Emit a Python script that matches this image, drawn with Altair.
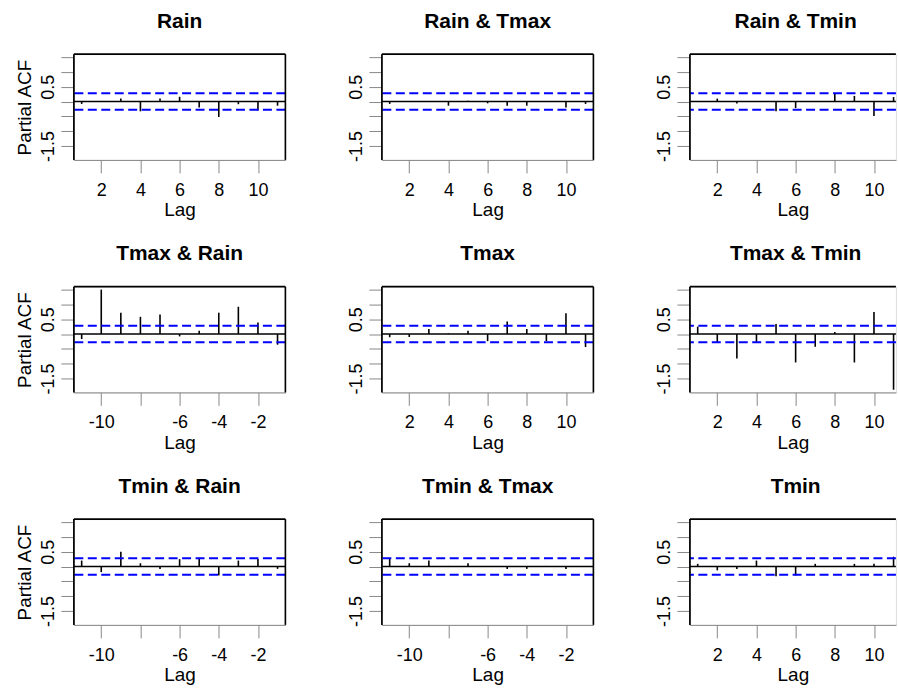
import altair as alt
import pandas as pd

FONT = "Liberation Sans"

# ---------------- data ----------------
lags_pos = list(range(1, 12))
lags_neg = list(range(-11, 0))

rain      = [-0.08, 0.02, 0.10, -0.33, 0.10, 0.16, -0.20, -0.52, -0.09, -0.30, -0.14]
rain_tmax = [-0.08, 0.01, 0.02, -0.14, 0.03, -0.06, -0.14, -0.14, 0.01, -0.20, -0.08]
rain_tmin = [0.01, 0.10, -0.07, 0.01, -0.33, -0.22, 0.01, 0.26, 0.19, -0.49, 0.15]
tmax_rain = [-0.17, 1.50, 0.72, 0.58, 0.66, -0.08, 0.11, 0.72, 0.92, 0.39, -0.36]
tmax      = [-0.11, -0.10, 0.17, 0.02, 0.11, -0.24, 0.42, 0.17, -0.24, 0.70, -0.44]
tmax_tmin = [0.25, -0.30, -0.83, -0.30, 0.34, -0.96, -0.43, 0.07, -0.96, 0.74, -1.88]
tmin_rain = [0.20, -0.19, 0.50, 0.11, -0.08, 0.25, 0.30, -0.30, 0.20, 0.25, -0.08]
tmin_tmax = [0.28, 0.11, 0.20, 0.02, 0.11, 0.01, -0.08, -0.08, 0.02, -0.08, 0.01]
tmin      = [0.09, -0.13, -0.08, 0.20, -0.33, -0.30, 0.09, 0.02, 0.09, 0.09, 0.33]

titles = ["Rain", "Rain & Tmax", "Rain & Tmin",
          "Tmax & Rain", "Tmax", "Tmax & Tmin",
          "Tmin & Rain", "Tmin & Tmax", "Tmin"]
series = [rain, rain_tmax, rain_tmin,
          tmax_rain, tmax, tmax_tmin,
          tmin_rain, tmin_tmax, tmin]
lag_sets = [lags_pos, lags_pos, lags_pos,
            lags_neg, lags_pos, lags_pos,
            lags_neg, lags_neg, lags_pos]

ci_levels = [0.28, -0.28]
zero_level = [0.0]
y_ticks = [-1.5, -1.0, -0.5, 0.0, 0.5, 1.0, 1.5]
x_ticks_pos = [2, 4, 6, 8, 10]
x_ticks_neg = [-10, -8, -6, -4, -2]
y_domain = [-1.97, 1.6]
x_domain_pos = [0.6, 11.4]
x_domain_neg = [-11.4, -0.6]

# ---------------- layout ----------------
W, H = 212, 106
W3 = 206.5          # last column is cut by the window edge
LW = 1.6


def panel(i):
    col = i % 3
    lags = lag_sets[i]
    neg = lags[0] < 0
    xd = list(x_domain_neg if neg else x_domain_pos)
    w = W
    dx = 0
    if col == 2:
        w = W3
        xd = [xd[0], xd[0] + (xd[1] - xd[0]) * W3 / W]
        dx = (W - W3) / 2
    xs = alt.Scale(domain=xd, nice=False, zero=False)
    ys = alt.Scale(domain=y_domain, nice=False, zero=False)

    xargs = dict(title="Lag", tickSize=13, labelPadding=8.5, grid=False,
                 labelFontSize=18, titleFontSize=19, titleFontWeight="normal",
                 titleY=56, titleBaseline="alphabetic",
                 labelFlush=False, labelOverlap=False)
    if neg:
        x_axis = alt.Axis(values=x_ticks_neg,
                          labelExpr="datum.value == -8 ? '' : '-' + abs(datum.value)",
                          **xargs)
    else:
        x_axis = alt.Axis(values=x_ticks_pos, **xargs)

    yargs = dict(values=y_ticks, grid=False,
                 labelExpr="datum.value == 0.5 ? '0.5' : (datum.value == -1.5 ? '-1.5' : '')",
                 tickSize=13, labelPadding=7, labelAngle=270, labelAlign="center",
                 labelBaseline="alphabetic", labelFontSize=18, labelFlush=False,
                 labelOverlap=False)
    if col == 0:
        y_axis = alt.Axis(title="Partial ACF", titleFontSize=19, titleFontWeight="normal",
                          titleAngle=270, titleX=-43.3, titleY=H / 2, titleAlign="center",
                          titleBaseline="alphabetic", **yargs)
    else:
        y_axis = alt.Axis(title=None, **yargs)

    df = pd.DataFrame({"lag": lags, "pacf": series[i], "base": [0.0] * len(lags)})

    bars = alt.Chart(df).mark_rule(color="black", strokeWidth=LW).encode(
        x=alt.X("lag:Q", scale=xs, axis=x_axis),
        y=alt.Y("pacf:Q", scale=ys, axis=y_axis),
        y2="base:Q",
    )
    zero = alt.Chart(pd.DataFrame({"pacf": zero_level})).mark_rule(
        color="black", strokeWidth=LW).encode(y=alt.Y("pacf:Q", scale=ys, axis=y_axis))
    ci = alt.Chart(pd.DataFrame({"pacf": ci_levels})).mark_rule(
        color="#0000ff", strokeWidth=2, strokeDash=[9, 4.5]).encode(
        y=alt.Y("pacf:Q", scale=ys, axis=y_axis))
    top = alt.Chart(pd.DataFrame({"pacf": [y_domain[1]]})).mark_rule(
        color="black", strokeWidth=LW).encode(y=alt.Y("pacf:Q", scale=ys, axis=y_axis))
    # frame sides at the x-domain ends (the last column is cut on the right)
    sides = [xd[0]] if col == 2 else [xd[0], xd[1]]
    side = alt.Chart(pd.DataFrame({"lag": sides})).mark_rule(
        color="black", strokeWidth=LW).encode(x=alt.X("lag:Q", scale=xs, axis=x_axis))
    layers = [bars, zero, ci, top, side]

    return alt.layer(*layers).properties(
        width=w, height=H,
        title=alt.TitleParams(text=titles[i], fontSize=21, fontWeight="bold", font=FONT,
                              color="black", anchor="middle", frame="group",
                              baseline="alphabetic", offset=4.5, dx=dx),
    )


charts = [panel(i) for i in range(9)]

chart = alt.concat(*charts, columns=3, spacing={"row": 127, "column": 96.7},
                   bounds="flush").properties(
    padding={"left": 15, "top": 9.5, "right": 0, "bottom": 3},
    background="white",
).configure_view(stroke=None).configure_axis(
    grid=False, domain=True, domainColor="black", domainWidth=LW,
    tickColor="black", tickWidth=LW, labelColor="black", titleColor="black",
    labelFont=FONT, titleFont=FONT,
).configure(font=FONT)

chart.save("out.html", embed_options={"renderer": "svg", "actions": False})
